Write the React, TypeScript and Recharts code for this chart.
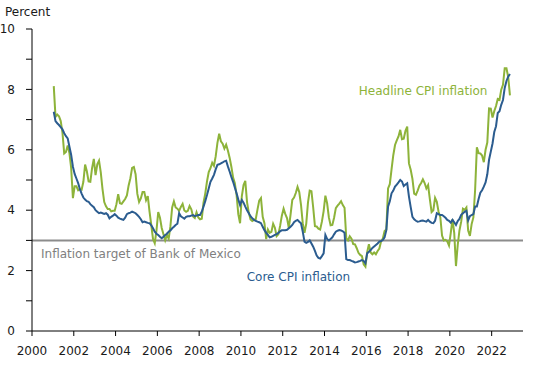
import React from 'react';
import { LineChart, Line, XAxis, YAxis, ReferenceLine, ReferenceDot } from 'recharts';

// Monthly annual inflation rates, Jan 2001 .. Nov 2022 (percent)
const startYear = 2001;

const headlineCPI = [
  8.11, 7.09, 7.17, 7.11, 6.95, 6.57, 5.88, 5.93, 6.14, 5.89, 5.39, 4.40, // 2001
  4.79, 4.79, 4.66, 4.70, 4.68, 4.94, 5.51, 5.29, 4.95, 4.94, 5.39, 5.70, // 2002
  5.16, 5.52, 5.64, 5.25, 4.70, 4.27, 4.13, 4.04, 4.04, 3.96, 3.98, 3.98, // 2003
  4.20, 4.53, 4.23, 4.21, 4.29, 4.37, 4.49, 4.82, 5.06, 5.40, 5.43, 5.19, // 2004
  4.54, 4.27, 4.39, 4.60, 4.60, 4.33, 4.47, 3.95, 3.51, 3.05, 2.91, 3.33, // 2005
  3.94, 3.75, 3.41, 3.20, 3.00, 3.18, 3.06, 3.47, 4.09, 4.29, 4.09, 4.05, // 2006
  3.98, 4.11, 4.21, 3.99, 3.95, 3.98, 4.14, 4.03, 3.79, 3.74, 3.93, 3.76, // 2007
  3.70, 3.72, 4.25, 4.55, 4.95, 5.26, 5.39, 5.57, 5.47, 5.78, 6.23, 6.53, // 2008
  6.28, 6.20, 6.04, 6.17, 5.98, 5.74, 5.44, 5.08, 4.89, 4.50, 3.86, 3.57, // 2009
  4.46, 4.83, 4.97, 4.27, 3.92, 3.69, 3.64, 3.68, 3.70, 4.02, 4.32, 4.40, // 2010
  3.78, 3.57, 3.04, 3.36, 3.25, 3.28, 3.55, 3.42, 3.14, 3.20, 3.48, 3.82, // 2011
  4.05, 3.87, 3.73, 3.41, 3.85, 4.34, 4.42, 4.57, 4.77, 4.60, 4.18, 3.57, // 2012
  3.25, 3.55, 4.25, 4.65, 4.63, 4.09, 3.47, 3.46, 3.39, 3.36, 3.62, 3.97, // 2013
  4.48, 4.23, 3.76, 3.50, 3.51, 3.75, 4.07, 4.15, 4.22, 4.30, 4.17, 4.08, // 2014
  3.07, 3.00, 3.14, 3.06, 2.88, 2.87, 2.74, 2.59, 2.52, 2.48, 2.21, 2.13, // 2015
  2.61, 2.87, 2.60, 2.54, 2.60, 2.54, 2.65, 2.73, 2.97, 3.06, 3.31, 3.36, // 2016
  4.72, 4.86, 5.35, 5.82, 6.16, 6.31, 6.44, 6.66, 6.35, 6.37, 6.63, 6.77, // 2017
  5.55, 5.34, 5.04, 4.55, 4.51, 4.65, 4.81, 4.90, 5.02, 4.90, 4.72, 4.83, // 2018
  4.37, 3.94, 4.00, 4.41, 4.28, 3.95, 3.78, 3.16, 3.00, 3.02, 2.97, 2.83, // 2019
  3.24, 3.70, 3.25, 2.15, 2.84, 3.33, 3.62, 4.05, 4.01, 4.09, 3.33, 3.15, // 2020
  3.54, 3.76, 4.67, 6.08, 5.89, 5.88, 5.81, 5.59, 6.00, 6.24, 7.37, 7.36, // 2021
  7.07, 7.28, 7.45, 7.68, 7.65, 7.99, 8.15, 8.70, 8.70, 8.41, 7.80,       // 2022
];

const coreCPI = [
  7.26, 6.95, 6.88, 6.82, 6.75, 6.68, 6.55, 6.45, 6.38, 6.10, 5.83, 5.44, // 2001
  5.20, 5.05, 4.90, 4.70, 4.55, 4.42, 4.35, 4.30, 4.28, 4.20, 4.15, 4.10, // 2002
  4.00, 3.95, 3.90, 3.92, 3.90, 3.88, 3.90, 3.85, 3.73, 3.78, 3.82, 3.87, // 2003
  3.82, 3.75, 3.72, 3.70, 3.68, 3.75, 3.87, 3.90, 3.92, 3.95, 3.93, 3.90, // 2004
  3.84, 3.78, 3.70, 3.60, 3.62, 3.60, 3.58, 3.57, 3.50, 3.40, 3.29, 3.22, // 2005
  3.18, 3.12, 3.07, 3.12, 3.18, 3.22, 3.29, 3.33, 3.40, 3.45, 3.51, 3.55, // 2006
  3.90, 3.80, 3.76, 3.72, 3.78, 3.80, 3.80, 3.82, 3.84, 3.80, 3.82, 3.84, // 2007
  3.84, 3.95, 4.12, 4.30, 4.50, 4.72, 4.94, 5.05, 5.17, 5.35, 5.50, 5.52, // 2008
  5.55, 5.58, 5.62, 5.64, 5.45, 5.28, 5.10, 4.94, 4.75, 4.56, 4.35, 4.17, // 2009
  4.34, 4.25, 4.12, 4.00, 3.90, 3.80, 3.73, 3.68, 3.65, 3.62, 3.60, 3.57, // 2010
  3.45, 3.34, 3.25, 3.18, 3.10, 3.12, 3.15, 3.18, 3.21, 3.25, 3.30, 3.34, // 2011
  3.34, 3.34, 3.35, 3.40, 3.45, 3.51, 3.60, 3.65, 3.68, 3.62, 3.57, 3.29, // 2012
  2.96, 2.92, 2.95, 3.00, 2.90, 2.79, 2.65, 2.50, 2.42, 2.40, 2.48, 2.57, // 2013
  3.18, 3.05, 3.00, 3.05, 3.10, 3.20, 3.29, 3.32, 3.34, 3.33, 3.30, 3.25, // 2014
  2.38, 2.35, 2.35, 2.32, 2.30, 2.27, 2.28, 2.30, 2.32, 2.35, 2.32, 2.24, // 2015
  2.57, 2.62, 2.68, 2.75, 2.80, 2.85, 2.90, 2.96, 2.98, 3.01, 3.10, 3.34, // 2016
  4.12, 4.30, 4.56, 4.65, 4.78, 4.85, 4.92, 5.00, 4.95, 4.80, 4.85, 4.89, // 2017
  4.45, 4.10, 3.78, 3.70, 3.65, 3.62, 3.63, 3.65, 3.66, 3.64, 3.62, 3.68, // 2018
  3.62, 3.58, 3.57, 3.65, 3.90, 3.87, 3.84, 3.84, 3.80, 3.75, 3.68, 3.65, // 2019
  3.59, 3.68, 3.60, 3.51, 3.64, 3.71, 3.85, 3.90, 3.95, 3.98, 3.66, 3.80, // 2020
  3.84, 3.87, 4.12, 4.12, 4.37, 4.58, 4.66, 4.78, 4.92, 5.19, 5.67, 5.94, // 2021
  6.21, 6.59, 6.78, 7.22, 7.28, 7.49, 7.65, 8.05, 8.28, 8.42, 8.51,       // 2022
];

const xTicks = [2000, 2002, 2004, 2006, 2008, 2010, 2012, 2014, 2016, 2018, 2020, 2022];
const yTicks = [0, 1, 2, 3, 4, 5, 6, 7, 8, 9, 10];
const yLabelStep = 2;
const targetRate = 3;
const targetLabel = 'Inflation target of Bank of Mexico';
const headlineLabel = { text: 'Headline CPI inflation', x: 2018.72, y: 7.95 };
const coreLabel = { text: 'Core CPI inflation', x: 2012.75, y: 1.8 };

const data = headlineCPI.map((h, i) => ({
  t: startYear + (i + 0.5) / 12,
  headline: h,
  core: coreCPI[i],
}));

const GREEN = '#8db33a';
const BLUE = '#2b5c8f';
const FONT = '"DejaVu Sans", sans-serif';

export default function App() {
  return (
    <div style={{ position: 'absolute', left: 0, top: 0, width: 550, height: 365, fontFamily: FONT }}>
      <div style={{ position: 'absolute', left: 5, top: 5, fontSize: 12, lineHeight: '14px', color: '#1a1a1a' }}>Percent</div>
      <LineChart width={550} height={365} data={data} margin={{ top: 29, right: 27, bottom: 4, left: 0 }}>
        <XAxis
          dataKey="t"
          type="number"
          domain={[2000, 2023.5]}
          ticks={xTicks}
          interval={0}
          allowDataOverflow
          height={30}
          tickSize={5}
          tickMargin={10}
          stroke="#000"
          tick={{ fill: '#1a1a1a', fontSize: 12, fontFamily: FONT }}
        />
        <YAxis
          type="number"
          domain={[0, 10]}
          ticks={yTicks}
          interval={0}
          width={32}
          tickSize={6}
          tickMargin={11}
          stroke="#000"
          tickFormatter={(v: number) => (v % yLabelStep === 0 ? String(v) : '')}
          tick={{ fill: '#1a1a1a', fontSize: 12, fontFamily: FONT }}
        />
        <ReferenceLine
          y={targetRate}
          stroke="#8c8c8c"
          strokeWidth={2}
          label={{ value: targetLabel, position: 'insideTopLeft', offset: 9, fill: '#808080', fontSize: 12, fontFamily: FONT }}
        />
        <Line dataKey="headline" type="linear" stroke={GREEN} strokeWidth={2} dot={false} isAnimationActive={false} />
        <Line dataKey="core" type="linear" stroke={BLUE} strokeWidth={2} dot={false} isAnimationActive={false} />
        <ReferenceDot
          x={headlineLabel.x}
          y={headlineLabel.y}
          r={0}
          stroke="none"
          fill="none"
          label={{ value: headlineLabel.text, position: 'center', fill: GREEN, fontSize: 12, fontFamily: FONT }}
        />
        <ReferenceDot
          x={coreLabel.x}
          y={coreLabel.y}
          r={0}
          stroke="none"
          fill="none"
          label={{ value: coreLabel.text, position: 'center', fill: BLUE, fontSize: 12, fontFamily: FONT }}
        />
      </LineChart>
    </div>
  );
}
